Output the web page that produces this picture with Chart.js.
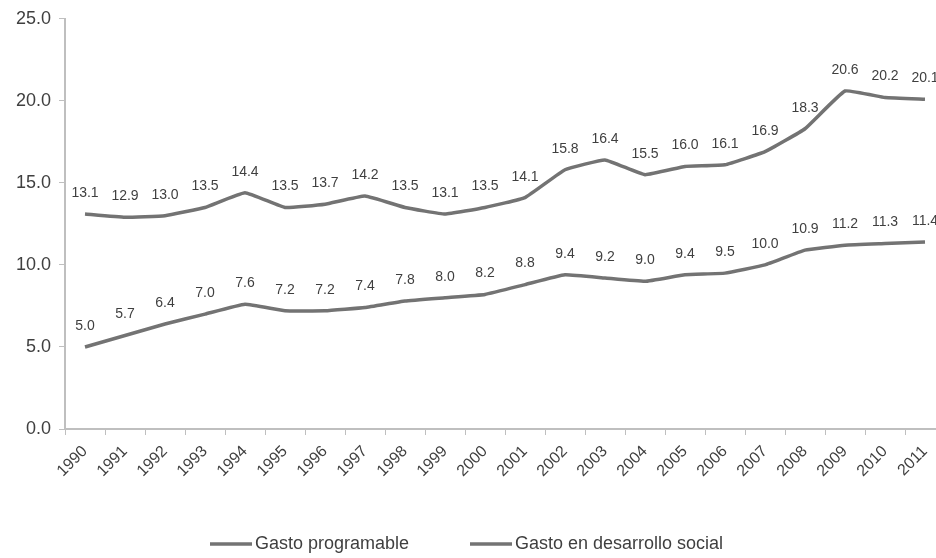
<!DOCTYPE html>
<html>
<head>
<meta charset="utf-8">
<script src="https://cdn.jsdelivr.net/npm/chart.js@4/dist/chart.umd.min.js"></script>
<style>
html,body{margin:0;padding:0;background:#fff;overflow:hidden;width:936px;height:558px;}
#wrap{position:relative;width:950px;height:558px;}
</style>
</head>
<body>
<div id="wrap"><canvas id="c" width="950" height="558"></canvas></div>
<script>
const years = ['1990','1991','1992','1993','1994','1995','1996','1997','1998','1999','2000','2001','2002','2003','2004','2005','2006','2007','2008','2009','2010','2011'];
const gastoProgramable = [13.1,12.9,13.0,13.5,14.4,13.5,13.7,14.2,13.5,13.1,13.5,14.1,15.8,16.4,15.5,16.0,16.1,16.9,18.3,20.6,20.2,20.1];
const gastoDesarrolloSocial = [5.0,5.7,6.4,7.0,7.6,7.2,7.2,7.4,7.8,8.0,8.2,8.8,9.4,9.2,9.0,9.4,9.5,10.0,10.9,11.2,11.3,11.4];
const seriesNames = ['Gasto programable','Gasto en desarrollo social'];
const yTicks = [0,5,10,15,20,25];

const FONT = '"Liberation Sans", Arial, sans-serif';
const LINE_COLOR = '#737373';
const TEXT_COLOR = '#3f3f3f';
const AXIS_COLOR = '#bfbfbf';

const dataLabels = {
  id: 'dataLabels',
  afterDatasetsDraw(chart) {
    const ctx = chart.ctx;
    ctx.save();
    ctx.font = '14px ' + FONT;
    ctx.fillStyle = TEXT_COLOR;
    ctx.textAlign = 'center';
    ctx.textBaseline = 'middle';
    chart.data.datasets.forEach((ds, i) => {
      const meta = chart.getDatasetMeta(i);
      meta.data.forEach((pt, j) => {
        ctx.fillText(ds.data[j].toFixed(1), pt.x, pt.y - 21);
      });
    });
    ctx.restore();
  }
};

const customLegend = {
  id: 'customLegend',
  afterDraw(chart) {
    const ctx = chart.ctx;
    ctx.save();
    ctx.font = '18px ' + FONT;
    ctx.textBaseline = 'middle';
    const lineW = 42, gapText = 3, y = 544;
    const starts = [210, 470];
    chart.data.datasets.forEach((ds, i) => {
      let x = starts[i];
      ctx.strokeStyle = ds.borderColor;
      ctx.lineWidth = 3.5;
      ctx.beginPath();
      ctx.moveTo(x, y);
      ctx.lineTo(x + lineW, y);
      ctx.stroke();
      x += lineW + gapText;
      ctx.fillStyle = TEXT_COLOR;
      ctx.textAlign = 'left';
      ctx.fillText(ds.label, x, y);
    });
    ctx.restore();
  }
};

new Chart(document.getElementById('c'), {
  type: 'line',
  data: {
    labels: years,
    datasets: [
      {label: seriesNames[0], data: gastoProgramable, borderColor: LINE_COLOR, backgroundColor: LINE_COLOR, borderWidth: 3.5, pointRadius: 0, tension: 0.1, fill: false},
      {label: seriesNames[1], data: gastoDesarrolloSocial, borderColor: LINE_COLOR, backgroundColor: LINE_COLOR, borderWidth: 3.5, pointRadius: 0, tension: 0.1, fill: false}
    ]
  },
  options: {
    responsive: false,
    animation: false,
    layout: {padding: {top: 16, right: 5, left: 0, bottom: 0}},
    plugins: {legend: {display: false}, tooltip: {enabled: false}},
    scales: {
      x: {
        type: 'category',
        offset: true,
        grid: {offset: true, drawOnChartArea: false, drawTicks: true, tickLength: 6, color: AXIS_COLOR, lineWidth: 1},
        border: {color: AXIS_COLOR, width: 2},
        ticks: {maxRotation: 45, minRotation: 45, autoSkip: false, padding: 7, color: TEXT_COLOR, font: {family: FONT, size: 16}},
        afterFit(scale) { scale.height = 129; }
      },
      y: {
        min: 0, max: 25,
        afterBuildTicks(scale) { scale.ticks = yTicks.map(v => ({value: v})); },
        grid: {drawOnChartArea: false, drawTicks: true, tickLength: 6, color: AXIS_COLOR},
        border: {color: AXIS_COLOR, width: 2},
        ticks: {padding: 8, color: TEXT_COLOR, font: {family: FONT, size: 18}, callback: v => Number(v).toFixed(1)},
        afterFit(scale) { scale.width = 65; }
      }
    }
  },
  plugins: [dataLabels, customLegend]
});
</script>
</body>
</html>
